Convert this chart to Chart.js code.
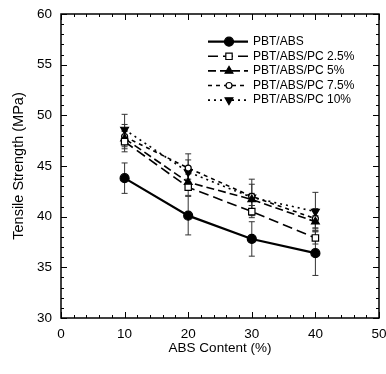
<!DOCTYPE html>
<html><head><meta charset="utf-8">
<script src="https://cdn.jsdelivr.net/npm/chart.js@4/dist/chart.umd.min.js"></script>
<style>html,body{margin:0;padding:0;background:#fff}#wrap{width:386px;height:374px}</style>
</head><body><div id="wrap"><canvas id="c" width="386" height="374"></canvas></div>
<script>
const absContent = [10, 20, 30, 40];
const seriesNames = ["PBT/ABS", "PBT/ABS/PC 2.5%", "PBT/ABS/PC 5%", "PBT/ABS/PC 7.5%", "PBT/ABS/PC 10%"];
const pbtAbs = [43.8, 40.1, 37.8, 36.4];
const pc25 = [47.4, 42.9, 40.5, 37.9];
const pc5 = [47.7, 43.4, 41.7, 39.5];
const pc75 = [47.9, 44.8, 42.0, 39.8];
const pc10 = [48.6, 44.4, 41.9, 40.5];
const errAbs = [1.5, 1.9, 1.7, 2.2];
const err25 = [1.0, 0.8, 0.6, 0.6];
const err5 = [0.8, 0.8, 0.6, 0.6];
const err75 = [1.2, 1.4, 1.2, 1.0];
const err10 = [1.5, 1.2, 1.8, 1.9];
const xTickValues = [0, 10, 20, 30, 40, 50];
const yTickValues = [30, 35, 40, 45, 50, 55, 60];

const FONT = "'Liberation Sans', Arial, sans-serif";

function mk(label, vals, errs, style) {
  return Object.assign({
    label: label,
    data: vals.map((v, i) => ({x: absContent[i], y: v})),
    errors: errs,
    borderColor: '#000',
    backgroundColor: '#000',
    pointBorderColor: '#000',
    borderWidth: 1.6,
    pointBorderWidth: 1.2,
    showLine: true,
    tension: 0
  }, style);
}

const datasets = [
  mk(seriesNames[0], pbtAbs, errAbs, {pointStyle: 'circle', pointRadius: 4.5, pointBackgroundColor: '#000', borderWidth: 2.2, borderDash: []}),
  mk(seriesNames[1], pc25, err25, {pointStyle: 'rect', pointRadius: 4.5, pointBackgroundColor: '#fff', borderDash: [10, 5]}),
  mk(seriesNames[2], pc5, err5, {pointStyle: 'triangle', pointRadius: 4.5, pointBackgroundColor: '#000', borderDash: [8, 4]}),
  mk(seriesNames[3], pc75, err75, {pointStyle: 'circle', pointRadius: 3, pointBackgroundColor: '#fff', borderDash: [4, 4]}),
  mk(seriesNames[4], pc10, err10, {pointStyle: 'triangle', pointRotation: 180, pointRadius: 4.5, pointBackgroundColor: '#000', borderDash: [2, 4]})
];

const errorBars = {
  id: 'errorBars',
  beforeDatasetsDraw(chart) {
    const ctx = chart.ctx, xs = chart.scales.x, ys = chart.scales.y;
    ctx.save();
    ctx.strokeStyle = '#333';
    ctx.lineWidth = 1;
    chart.data.datasets.forEach(ds => {
      ds.data.forEach((p, i) => {
        const e = ds.errors[i];
        const px = xs.getPixelForValue(p.x);
        const y1 = ys.getPixelForValue(p.y - e), y2 = ys.getPixelForValue(p.y + e);
        ctx.beginPath();
        ctx.moveTo(px, y1); ctx.lineTo(px, y2);
        ctx.moveTo(px - 3, y1); ctx.lineTo(px + 3, y1);
        ctx.moveTo(px - 3, y2); ctx.lineTo(px + 3, y2);
        ctx.stroke();
      });
    });
    ctx.restore();
  }
};

const frameTicks = {
  id: 'frameTicks',
  afterDraw(chart) {
    const ctx = chart.ctx, xs = chart.scales.x, ys = chart.scales.y, a = chart.chartArea;
    ctx.save();
    ctx.strokeStyle = '#000';
    ctx.lineWidth = 1.5;
    ctx.strokeRect(a.left, a.top, a.right - a.left, a.bottom - a.top);
    ctx.lineWidth = 1;
    ctx.beginPath();
    for (let v = xs.min; v <= xs.max; v += 2) {
      const px = Math.round(xs.getPixelForValue(v)) + 0.5;
      const len = (v % 10 === 0) ? 6 : 3;
      ctx.moveTo(px, a.bottom); ctx.lineTo(px, a.bottom - len);
      ctx.moveTo(px, a.top); ctx.lineTo(px, a.top + len);
    }
    for (let v = ys.min; v <= ys.max; v += 1) {
      const py = Math.round(ys.getPixelForValue(v)) + 0.5;
      const len = (v % 5 === 0) ? 6 : 3;
      ctx.moveTo(a.left, py); ctx.lineTo(a.left + len, py);
      ctx.moveTo(a.right, py); ctx.lineTo(a.right - len, py);
    }
    ctx.stroke();
    ctx.restore();
  }
};

const legendBox = {
  id: 'legendBox',
  afterDraw(chart) {
    const ctx = chart.ctx;
    ctx.save();
    chart.data.datasets.forEach((ds, i) => {
      const y = 41.7 + i * 14.6;
      ctx.strokeStyle = '#000';
      ctx.lineWidth = ds.borderWidth;
      ctx.setLineDash(ds.borderDash || []);
      ctx.beginPath();
      ctx.moveTo(208, y); ctx.lineTo(248, y);
      ctx.stroke();
      ctx.setLineDash([]);
      ctx.fillStyle = ds.pointBackgroundColor;
      ctx.strokeStyle = '#000';
      ctx.lineWidth = ds.pointBorderWidth;
      Chart.helpers.drawPoint(ctx, {pointStyle: ds.pointStyle, rotation: ds.pointRotation || 0, radius: ds.pointRadius, borderWidth: ds.pointBorderWidth}, 229, y);
      ctx.fillStyle = '#000';
      ctx.font = '12px ' + FONT;
      ctx.textBaseline = 'middle';
      ctx.textAlign = 'left';
      ctx.fillText(ds.label, 253, y);
    });
    ctx.restore();
  }
};

new Chart(document.getElementById('c'), {
  type: 'scatter',
  data: {datasets: datasets},
  options: {
    responsive: false,
    devicePixelRatio: 1,
    animation: false,
    layout: {padding: {left: 0, right: 7, top: 14, bottom: 0}},
    plugins: {legend: {display: false}, tooltip: {enabled: false}},
    scales: {
      x: {
        type: 'linear', min: 0, max: 50,
        afterBuildTicks: s => { s.ticks = xTickValues.map(v => ({value: v})); },
        afterFit: s => { s.height = 56; s.paddingRight = 0; s.paddingLeft = 0; },
        grid: {display: false, drawTicks: false},
        border: {display: false},
        ticks: {color: '#000', font: {family: FONT, size: 13.5}, padding: 8, maxRotation: 0},
        title: {display: true, text: 'ABS Content (%)', color: '#000', font: {family: FONT, size: 13.5}, padding: {top: 0, bottom: 18}}
      },
      y: {
        type: 'linear', min: 30, max: 60,
        afterBuildTicks: s => { s.ticks = yTickValues.map(v => ({value: v})); },
        afterFit: s => { s.width = 61; s.paddingTop = 0; s.paddingBottom = 0; },
        grid: {display: false, drawTicks: false},
        border: {display: false},
        ticks: {color: '#000', font: {family: FONT, size: 13.5}, padding: 9},
        title: {display: true, text: 'Tensile Strength (MPa)', color: '#000', font: {family: FONT, size: 14.5}, padding: {top: 9.8, bottom: 0}}
      }
    }
  },
  plugins: [errorBars, frameTicks, legendBox]
});
</script></body></html>
